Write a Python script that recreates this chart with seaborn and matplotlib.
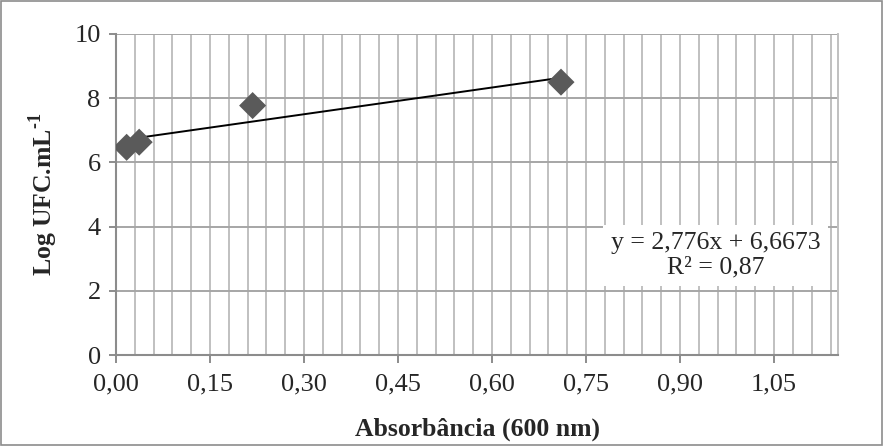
import numpy as np
import pandas as pd
import matplotlib
matplotlib.use("Agg")
import matplotlib.pyplot as plt
import seaborn as sns
from matplotlib.patches import Rectangle
from matplotlib.ticker import MultipleLocator, FuncFormatter

# data
absorbance = [0.017, 0.037, 0.218, 0.710]
log_ufc = [6.47, 6.63, 7.77, 8.50]
slope = 2.776
intercept = 6.6673
equation_text = "y = 2,776x + 6,6673\nR² = 0,87"
x_label = "Absorbância (600 nm)"
y_label = r"Log UFC.mL$^{\text{-1}}$"

sns.set_theme(style="white")
plt.rcParams['font.family'] = ['Liberation Serif', 'DejaVu Serif']
plt.rcParams['mathtext.fontset'] = 'custom'
plt.rcParams['mathtext.rm'] = 'Liberation Serif:bold'
plt.rcParams['mathtext.bf'] = 'Liberation Serif:bold'

df = pd.DataFrame({"x": absorbance, "y": log_ufc})
xs = np.array([min(absorbance), max(absorbance)])
trend = pd.DataFrame({"x": xs, "y": slope * xs + intercept})

fig = plt.figure(figsize=(8.84, 4.46), dpi=100)
ax = fig.add_axes([0.1312, 0.204, 0.948 - 0.1312, 0.9238 - 0.204])

sns.lineplot(data=trend, x="x", y="y", ax=ax, color="black", linewidth=1.4, zorder=3)
sns.scatterplot(data=df, x="x", y="y", ax=ax, marker="D", s=190, color="#5a5a5a",
                edgecolor="none", zorder=4)

ax.set_xlim(0, 1.152)
ax.set_ylim(0, 10)
ax.xaxis.set_major_locator(MultipleLocator(0.15))
ax.xaxis.set_minor_locator(MultipleLocator(0.03))
ax.yaxis.set_major_locator(MultipleLocator(2))
ax.xaxis.set_major_formatter(FuncFormatter(lambda v, p: f"{v:.2f}".replace(".", ",")))
ax.yaxis.set_major_formatter(FuncFormatter(lambda v, p: f"{v:.0f}"))

ax.grid(False)
for v in np.arange(0.03, 1.152, 0.03):
    ax.axvline(v, color="#c0c0c0", linewidth=1.4, zorder=1)
for v in [2, 4, 6, 8, 10]:
    ax.axhline(v, color="#a6a6a6", linewidth=1.4, zorder=1)

ax.spines["top"].set_visible(False)
ax.spines["right"].set_color("#c0c0c0")
ax.spines["right"].set_linewidth(1.4)
for s in ["left", "bottom"]:
    ax.spines[s].set_color("#8c8c8c")
    ax.spines[s].set_linewidth(1.5)

ax.tick_params(axis="x", which="major", direction="out", length=6, width=1.4,
               color="#8c8c8c", labelsize=19, pad=7, bottom=True)
ax.tick_params(axis="x", which="minor", length=0)
ax.tick_params(axis="y", which="major", direction="out", length=5, width=1.4,
               color="#8c8c8c", labelsize=19, pad=6, left=True)

ax.set_xlabel(x_label, fontsize=18.5, fontweight="bold", labelpad=16)
ax.set_ylabel(y_label, fontsize=18.5, fontweight="bold", labelpad=10)

ax.text(0.957, 3.1, equation_text, ha="center", va="center", fontsize=18.5,
        linespacing=1.12, zorder=5,
        bbox=dict(boxstyle="square,pad=0.3", facecolor="white", edgecolor="none"))

fig.patches.append(Rectangle((0.001, 0.002), 0.997, 0.995, transform=fig.transFigure,
                             fill=False, edgecolor="#8c8c8c", linewidth=1.2))

fig.savefig("out.png", dpi=100)
